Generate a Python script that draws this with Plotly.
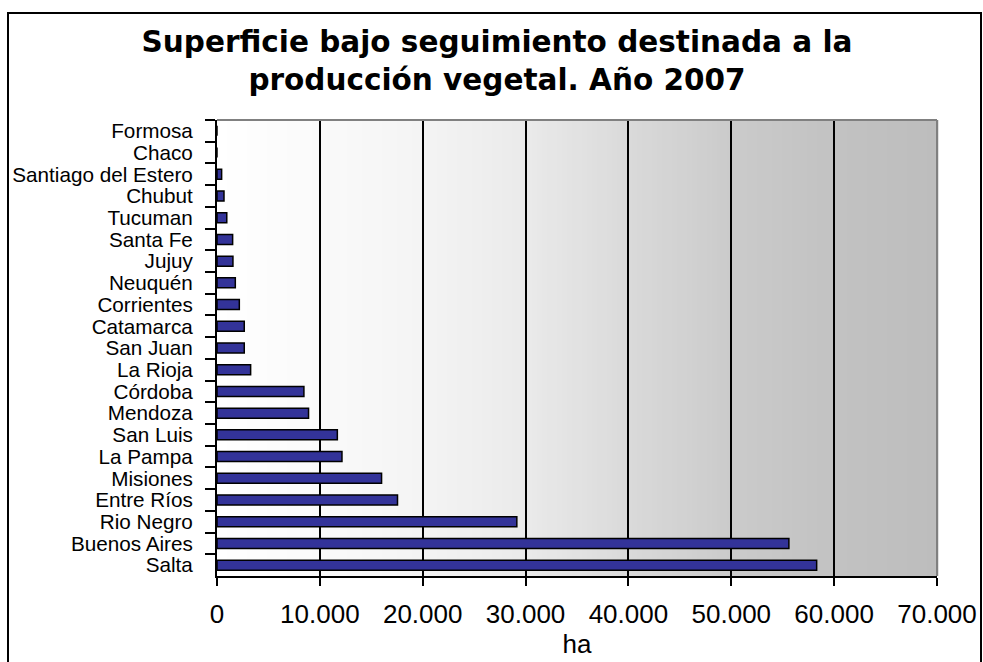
import plotly.graph_objects as go
import numpy as np

# ---- data ----
provinces = ["Formosa", "Chaco", "Santiago del Estero", "Chubut", "Tucuman", "Santa Fe",
             "Jujuy", "Neuquén", "Corrientes", "Catamarca", "San Juan", "La Rioja",
             "Córdoba", "Mendoza", "San Luis", "La Pampa", "Misiones", "Entre Ríos",
             "Rio Negro", "Buenos Aires", "Salta"]
hectares = [0, 0, 450, 680, 950, 1520, 1550, 1780, 2170, 2650, 2650, 3270,
            8450, 8900, 11700, 12150, 16000, 17550, 29150, 55600, 58300]
x_tick_values = [0, 10000, 20000, 30000, 40000, 50000, 60000, 70000]
x_tick_labels = ["0", "10.000", "20.000", "30.000", "40.000", "50.000", "60.000", "70.000"]

title_text = "Superficie bajo seguimiento destinada a la<br>producción vegetal. Año 2007"
x_title = "ha"

# ---- style ----
FONT = "Liberation Sans, Arial, sans-serif"
W, H = 983, 662
ML, MR, MT, MB = 217, 46, 120, 86
PW, PH = W - ML - MR, H - MT - MB

fig = go.Figure(go.Bar(
    x=hectares, y=provinces, orientation="h",
    marker=dict(color="#333399", line=dict(color="black", width=1.5)),
    hoverinfo="x+y",
))

shapes = []
# plot-area gradient (white -> gray, left to right)
stops_t = [0.0, 0.143, 0.286, 0.43, 0.57, 0.71, 0.86, 1.0]
stops_g = [255, 250, 244, 234, 218, 203, 194, 189]
N = 144
for i in range(N):
    t0, t1 = i / N, (i + 1) / N
    g = int(round(np.interp((t0 + t1) / 2, stops_t, stops_g)))
    shapes.append(dict(type="rect", xref="x domain", yref="y domain",
                       x0=t0, x1=t1 + 0.002, y0=0, y1=1, layer="below",
                       line=dict(width=0), fillcolor=f"rgb({g},{g},{g})"))
# gray top / right border of plot area
shapes.append(dict(type="line", xref="x domain", yref="y domain", x0=0, x1=1, y0=1, y1=1,
                   line=dict(color="#808080", width=2), layer="above"))
shapes.append(dict(type="line", xref="x domain", yref="y domain", x0=1, x1=1, y0=0, y1=1,
                   line=dict(color="#808080", width=2), layer="above"))
# outer figure border
bx0 = (8 - ML) / PW
bx1 = (981 - ML) / PW
by1 = 1 - (13 - MT) / PH
by0 = 1 - (668 - MT) / PH
shapes.append(dict(type="rect", xref="paper", yref="paper", x0=bx0, x1=bx1, y0=by0, y1=by1,
                   line=dict(color="black", width=2), layer="above"))

fig.update_layout(
    width=W, height=H,
    margin=dict(l=ML, r=MR, t=MT, b=MB, autoexpand=False),
    paper_bgcolor="white", plot_bgcolor="white",
    separators=",.",
    showlegend=False,
    bargap=0.54,
    title=dict(text=title_text, x=497 / W, xanchor="center", xref="container",
               y=1 - 52 / H, yanchor="top", yref="container", automargin=False,
               font=dict(family="DejaVu Sans, sans-serif", size=29.5, color="black", weight="bold")),
    shapes=shapes,
    font=dict(family=FONT, color="black"),
)

fig.update_xaxes(
    range=[0, 70000], tickvals=x_tick_values, ticktext=x_tick_labels,
    showgrid=True, gridcolor="black", gridwidth=2, zeroline=False,
    showline=True, linecolor="black", linewidth=2,
    ticks="outside", ticklen=8, tickwidth=2, tickcolor="black",
    tickfont=dict(family=FONT, size=26, color="black"),
    ticklabelstandoff=6, automargin=False,
    title=dict(text=x_title, font=dict(family=FONT, size=26, color="black"), standoff=2),
)
fig.update_yaxes(
    type="category", autorange="reversed",
    tickmode="linear", dtick=1,
    showgrid=False, zeroline=False,
    showline=True, linecolor="black", linewidth=2,
    ticks="outside", tickson="boundaries", ticklen=10, tickwidth=1.5, tickcolor="black",
    tickfont=dict(family=FONT, size=20.7, color="black"),
    ticklabelstandoff=18, automargin=False,
)

fig.write_html("out.html", config={"displayModeBar": False},
               post_script="document.body.style.margin='0px';document.body.style.overflow='hidden';")
